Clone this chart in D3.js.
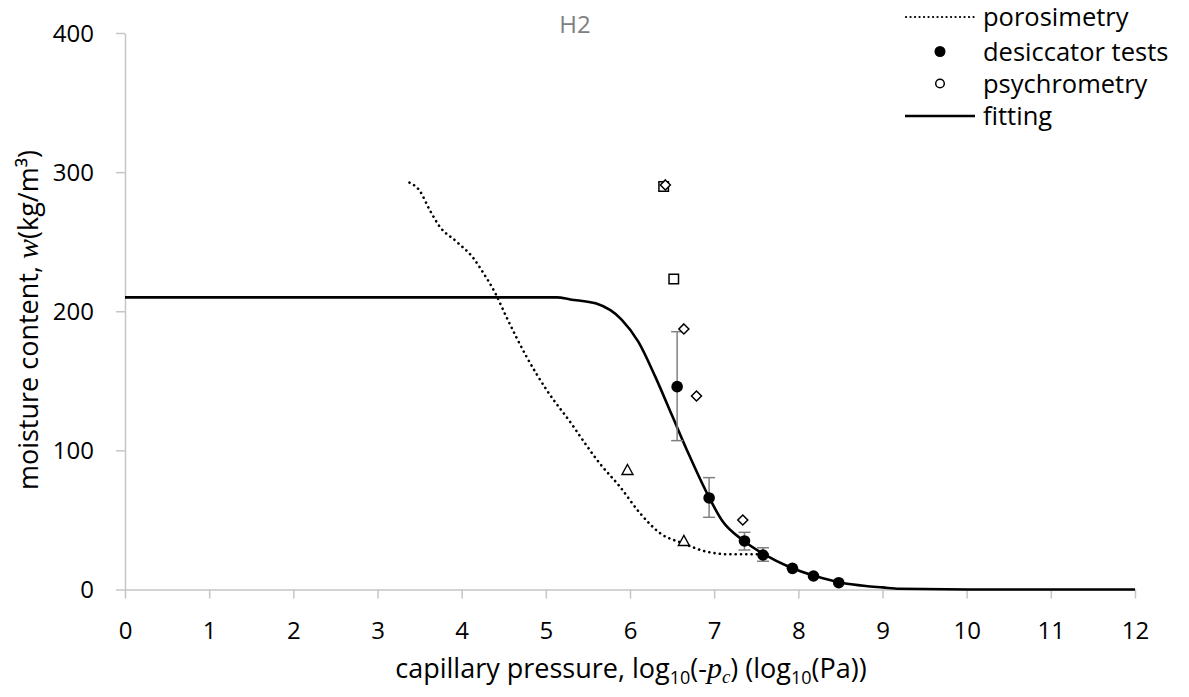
<!DOCTYPE html>
<html>
<head>
<meta charset="utf-8">
<script src="https://cdn.jsdelivr.net/npm/d3@7"></script>
<style>
  html, body { margin: 0; padding: 0; background: #fff; }
  svg { display: block; font-family: "Open Sans", sans-serif; }
</style>
</head>
<body>
<svg id="chart" width="1189" height="697"></svg>
<script>
// ---- data ----
const xTicks = [0,1,2,3,4,5,6,7,8,9,10,11,12];
const yTicks = [0,100,200,300,400];

const porosimetryX = [3.38, 3.5, 3.62, 3.74, 3.94, 4.14, 4.26, 4.40, 4.53, 4.77, 5.01, 5.33, 5.41, 5.64, 5.88, 6.12, 6.36, 6.63, 6.91, 7.19, 7.66];
const porosimetryW = [292.5, 286.7, 272.8, 260.8, 250, 238.1, 227.3, 212.9, 196.1, 167.4, 143.4, 117, 109.9, 90.7, 73.9, 54.8, 40.4, 33.2, 27.2, 25.3, 25.3];

const fittingX = [0, 5.13, 5.29, 5.6, 5.9, 6.1, 6.3, 6.5, 6.7, 6.9, 7.1, 7.35, 7.6, 7.9, 8.2, 8.5, 8.8, 9.0, 9.2, 10.2, 12];
const fittingW = [210, 210, 208.5, 205.5, 194, 178, 153, 125, 97, 71, 49, 35, 25, 16, 9.7, 5, 2.5, 1.5, 0.5, 0, 0];

const desiccatorX = [6.56, 6.94, 7.36, 7.58, 7.93, 8.18, 8.48];
const desiccatorW = [145.8, 65.8, 34.9, 24.8, 15.2, 9.7, 4.9];
const desiccatorErrHigh = [185.3, 80.4, 41.1, 30, null, null, null];
const desiccatorErrLow  = [107, 51.9, 28.4, 20.3, null, null, null];

const psychroDiamondX = [6.42, 6.64, 6.79, 7.34];
const psychroDiamondW = [290.8, 187.3, 139.1, 50];
const psychroSquareX = [6.40, 6.52];
const psychroSquareW = [289.6, 223.2];
const psychroTriangleX = [5.97, 6.64];
const psychroTriangleW = [85.9, 34.9];

const legendLabels = ["porosimetry", "desiccator tests", "psychrometry", "fitting"];

// ---- layout ----
const svg = d3.select("#chart");
const x = d3.scaleLinear().domain([0, 12]).range([125, 1135]);
const y = d3.scaleLinear().domain([0, 400]).range([589.5, 33]);
const axisColor = "#c6c6c6";

// axes
const xAxis = svg.append("g").attr("transform", `translate(0,${y(0)})`)
  .call(d3.axisBottom(x).tickValues(xTicks).tickSize(9).tickSizeOuter(0).tickFormat(d3.format("d")));
xAxis.select(".domain").attr("stroke", axisColor).attr("stroke-width", 1.5);
xAxis.selectAll(".tick line").attr("stroke", axisColor).attr("stroke-width", 1.5);
xAxis.selectAll(".tick text").attr("font-family", "Open Sans").attr("font-size", 24)
  .attr("fill", "#000").attr("y", 0).attr("dy", 0).attr("transform", "translate(0,49)");

const yAxis = svg.append("g").attr("transform", `translate(${x(0)},0)`)
  .call(d3.axisLeft(y).tickValues(yTicks).tickSize(9).tickSizeOuter(0).tickFormat(d3.format("d")));
yAxis.select(".domain").attr("stroke", axisColor).attr("stroke-width", 1.5);
yAxis.selectAll(".tick line").attr("stroke", axisColor).attr("stroke-width", 1.5);
yAxis.selectAll(".tick text").attr("font-family", "Open Sans").attr("font-size", 24)
  .attr("fill", "#000").attr("x", -31).attr("dy", "0.35em");

// porosimetry dotted line
const line = d3.line().x(d => x(d[0])).y(d => y(d[1])).curve(d3.curveMonotoneX);
svg.append("path")
  .datum(d3.zip(porosimetryX, porosimetryW))
  .attr("d", line)
  .attr("fill", "none").attr("stroke", "#000").attr("stroke-width", 2.6)
  .attr("stroke-linecap", "round").attr("stroke-dasharray", "0.1 5.2");

// fitting line
svg.append("path")
  .datum(d3.zip(fittingX, fittingW))
  .attr("d", line)
  .attr("fill", "none").attr("stroke", "#000").attr("stroke-width", 2.6)
  .attr("stroke-linejoin", "round");

// error bars
const errData = desiccatorX.map((d, i) => ({x: d, lo: desiccatorErrLow[i], hi: desiccatorErrHigh[i]})).filter(d => d.lo !== null);
const eg = svg.append("g").attr("stroke", "#808080").attr("stroke-width", 1.5);
errData.forEach(d => {
  eg.append("line").attr("x1", x(d.x)).attr("x2", x(d.x)).attr("y1", y(d.lo)).attr("y2", y(d.hi));
  eg.append("line").attr("x1", x(d.x) - 6).attr("x2", x(d.x) + 6).attr("y1", y(d.lo)).attr("y2", y(d.lo));
  eg.append("line").attr("x1", x(d.x) - 6).attr("x2", x(d.x) + 6).attr("y1", y(d.hi)).attr("y2", y(d.hi));
});

// psychrometry markers
const sym = (type, size) => d3.symbol().type(type).size(size)();
svg.append("g").selectAll("path").data(d3.zip(psychroSquareX, psychroSquareW)).join("path")
  .attr("d", sym(d3.symbolSquare, 90))
  .attr("transform", d => `translate(${x(d[0])},${y(d[1])})`)
  .attr("fill", "#fff").attr("stroke", "#000").attr("stroke-width", 1.5);
svg.append("g").selectAll("path").data(d3.zip(psychroDiamondX, psychroDiamondW)).join("path")
  .attr("d", "M0,-5L5,0L0,5L-5,0Z")
  .attr("transform", d => `translate(${x(d[0])},${y(d[1])})`)
  .attr("fill", "#fff").attr("stroke", "#000").attr("stroke-width", 1.5);
svg.append("g").selectAll("path").data(d3.zip(psychroTriangleX, psychroTriangleW)).join("path")
  .attr("d", "M0,-5.5L5.5,4.5L-5.5,4.5Z")
  .attr("transform", d => `translate(${x(d[0])},${y(d[1])})`)
  .attr("fill", "#fff").attr("stroke", "#000").attr("stroke-width", 1.4);

// desiccator markers
svg.append("g").selectAll("circle").data(d3.zip(desiccatorX, desiccatorW)).join("circle")
  .attr("cx", d => x(d[0])).attr("cy", d => y(d[1])).attr("r", 5.8).attr("fill", "#000");

// title
svg.append("text").attr("x", 575).attr("y", 33).attr("text-anchor", "middle")
  .attr("font-size", 24).attr("fill", "#808080").text("H2");

// legend
const lg = svg.append("g");
const rows = [17, 51.5, 83.5, 116];
lg.append("line").attr("x1", 906).attr("x2", 975).attr("y1", rows[0]).attr("y2", rows[0])
  .attr("stroke", "#000").attr("stroke-width", 2.2).attr("stroke-linecap", "round").attr("stroke-dasharray", "0.1 4.4");
lg.append("circle").attr("cx", 940).attr("cy", rows[1]).attr("r", 5.5).attr("fill", "#000");
lg.append("circle").attr("cx", 940).attr("cy", rows[2]).attr("r", 4.3).attr("fill", "#fff").attr("stroke", "#000").attr("stroke-width", 1.5);
lg.append("line").attr("x1", 905).attr("x2", 975).attr("y1", rows[3]).attr("y2", rows[3])
  .attr("stroke", "#000").attr("stroke-width", 2.6);
legendLabels.forEach((t, i) => {
  lg.append("text").attr("x", 983).attr("y", rows[i] + 9).attr("font-size", 25.5).attr("fill", "#000").text(t);
});

// y axis label
const yl = svg.append("text").attr("transform", "translate(38,320) rotate(-90)")
  .attr("text-anchor", "middle").attr("font-size", 27).attr("fill", "#000");
yl.append("tspan").text("moisture content, ");
yl.append("tspan").attr("font-family", "Liberation Serif").attr("font-style", "italic").attr("font-size", 30).text("w");
yl.append("tspan").text("(kg/m³)");

// x axis label
const xl = svg.append("text").attr("x", 631).attr("y", 678).attr("text-anchor", "middle")
  .attr("font-size", 27).attr("fill", "#000");
xl.append("tspan").text("capillary pressure, log");
xl.append("tspan").attr("font-size", 18).attr("dy", 6).text("10");
xl.append("tspan").attr("dy", -6).text("(-");
xl.append("tspan").attr("font-family", "Liberation Serif").attr("font-style", "italic").attr("font-size", 30).text("p");
xl.append("tspan").attr("font-family", "Liberation Serif").attr("font-style", "italic").attr("font-size", 19).attr("dy", 5).text("c");
xl.append("tspan").attr("dy", -5).text(") (log");
xl.append("tspan").attr("font-size", 18).attr("dy", 6).text("10");
xl.append("tspan").attr("dy", -6).text("(Pa))");
</script>
</body>
</html>
